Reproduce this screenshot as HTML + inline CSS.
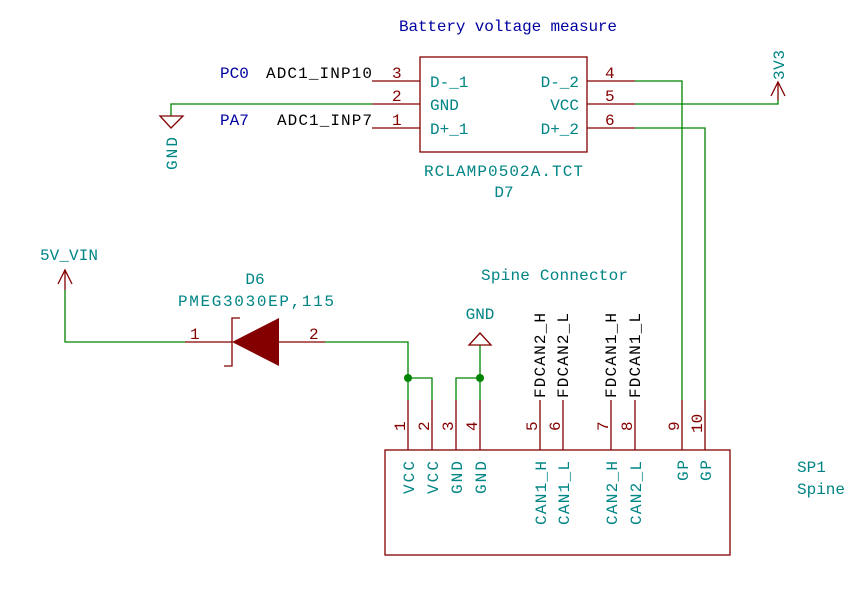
<!DOCTYPE html>
<html><head><meta charset="utf-8"><style>
html,body{margin:0;padding:0;background:#fff;}
svg{display:block;}
text{font-family:"Liberation Mono","DejaVu Sans Mono",monospace;font-size:16px;}
.t{fill:#008484}.r{fill:#840000}.k{fill:#000}.b{fill:#0000a0}
</style></head><body>
<svg width="862" height="592" viewBox="0 0 862 592" xmlns="http://www.w3.org/2000/svg">
<rect width="862" height="592" fill="#fff"/>
<g fill="none" stroke="#008400" stroke-width="1.3">
<polyline points="171,116 171,104 372,104"/>
<polyline points="635,81 682,81 682,400"/>
<polyline points="635,128 705,128 705,400"/>
<polyline points="635,104 778,104 778,100"/>
<polyline points="65,290 65,342 185,342"/>
<polyline points="325,342 408,342 408,400"/>
<polyline points="408,378 432,378 432,400"/>
<polyline points="456,400 456,378 480,378"/>
<polyline points="480,345 480,400"/>
</g>
<g fill="#008400"><circle cx="408" cy="378" r="4"/><circle cx="480" cy="378" r="4"/></g>
<g fill="none" stroke="#840000" stroke-width="1.3">
<rect x="420" y="57" width="167" height="95"/>
<line x1="372" y1="81" x2="420" y2="81"/><line x1="372" y1="104" x2="420" y2="104"/><line x1="372" y1="128" x2="420" y2="128"/>
<line x1="587" y1="81" x2="635" y2="81"/><line x1="587" y1="104" x2="635" y2="104"/><line x1="587" y1="128" x2="635" y2="128"/>
<polygon points="160,116 183,116 171,128"/>
<polyline points="771,96 778,82 785,96"/><line x1="778" y1="82" x2="778" y2="100"/>
<polyline points="58,284 65,270 72,284"/><line x1="65" y1="270" x2="65" y2="290"/>
<line x1="185" y1="342" x2="232" y2="342"/><line x1="279" y1="342" x2="325" y2="342"/>
<polyline points="240,318 232,318 232,366 224,366"/>
<polygon points="469,345 491,345 480,333"/>
<rect x="385" y="450" width="345" height="105"/>
<line x1="408" y1="400" x2="408" y2="450"/><line x1="432" y1="400" x2="432" y2="450"/>
<line x1="456" y1="400" x2="456" y2="450"/><line x1="480" y1="400" x2="480" y2="450"/>
<line x1="540" y1="400" x2="540" y2="450"/><line x1="563" y1="400" x2="563" y2="450"/>
<line x1="611" y1="400" x2="611" y2="450"/><line x1="635" y1="400" x2="635" y2="450"/>
<line x1="682" y1="400" x2="682" y2="450"/><line x1="705" y1="400" x2="705" y2="450"/>
</g>
<polygon points="232,342 279,318 279,366" fill="#840000"/>
<text x="399" y="31" class="b" textLength="218">Battery voltage measure</text>
<text x="220" y="78" class="b">PC0</text>
<text x="266" y="78" class="k" textLength="106">ADC1_INP10</text>
<text x="220" y="125" class="b">PA7</text>
<text x="277" y="125" class="k" textLength="95">ADC1_INP7</text>
<text x="392" y="78" class="r">3</text><text x="392" y="101" class="r">2</text><text x="392" y="125" class="r">1</text>
<text x="605" y="78" class="r">4</text><text x="605" y="101" class="r">5</text><text x="605" y="125" class="r">6</text>
<text x="430" y="87" class="t">D-_1</text><text x="430" y="110" class="t">GND</text><text x="430" y="134" class="t">D+_1</text>
<text x="579" y="87" class="t" text-anchor="end">D-_2</text><text x="579" y="110" class="t" text-anchor="end">VCC</text><text x="579" y="134" class="t" text-anchor="end">D+_2</text>
<text x="424" y="176" class="t" textLength="159">RCLAMP0502A.TCT</text>
<text x="504" y="197" class="t" text-anchor="middle">D7</text>
<text transform="translate(177,170) rotate(-90)" class="t" textLength="33">GND</text>
<text transform="translate(784,80) rotate(-90)" class="t" textLength="30">3V3</text>
<text x="40" y="260" class="t" textLength="58">5V_VIN</text>
<text x="255" y="284" class="t" text-anchor="middle">D6</text>
<text x="178" y="306" class="t" textLength="156">PMEG3030EP,115</text>
<text x="190" y="339" class="r">1</text><text x="309" y="339" class="r">2</text>
<text x="480" y="319" class="t" text-anchor="middle">GND</text>
<text x="481" y="280" class="t" textLength="147">Spine Connector</text>
<g class="k">
<text transform="translate(545,398) rotate(-90)" textLength="85">FDCAN2_H</text>
<text transform="translate(568,398) rotate(-90)" textLength="85">FDCAN2_L</text>
<text transform="translate(616,398) rotate(-90)" textLength="85">FDCAN1_H</text>
<text transform="translate(640,398) rotate(-90)" textLength="85">FDCAN1_L</text>
</g>
<g class="r">
<text transform="translate(405,431) rotate(-90)">1</text>
<text transform="translate(429,431) rotate(-90)">2</text>
<text transform="translate(453,431) rotate(-90)">3</text>
<text transform="translate(477,431) rotate(-90)">4</text>
<text transform="translate(537,431) rotate(-90)">5</text>
<text transform="translate(560,431) rotate(-90)">6</text>
<text transform="translate(608,431) rotate(-90)">7</text>
<text transform="translate(632,431) rotate(-90)">8</text>
<text transform="translate(679,431) rotate(-90)">9</text>
<text transform="translate(702,433) rotate(-90)">10</text>
</g>
<g class="t">
<text transform="translate(414,494) rotate(-90)" textLength="33">VCC</text>
<text transform="translate(438,494) rotate(-90)" textLength="33">VCC</text>
<text transform="translate(462,494) rotate(-90)" textLength="33">GND</text>
<text transform="translate(486,494) rotate(-90)" textLength="33">GND</text>
<text transform="translate(546,525) rotate(-90)" textLength="64">CAN1_H</text>
<text transform="translate(569,525) rotate(-90)" textLength="64">CAN1_L</text>
<text transform="translate(617,525) rotate(-90)" textLength="64">CAN2_H</text>
<text transform="translate(641,525) rotate(-90)" textLength="64">CAN2_L</text>
<text transform="translate(688,481) rotate(-90)" textLength="21">GP</text>
<text transform="translate(711,481) rotate(-90)" textLength="21">GP</text>
</g>
<text x="797" y="472" class="t">SP1</text>
<text x="797" y="494" class="t">Spine</text>
</svg>
</body></html>
